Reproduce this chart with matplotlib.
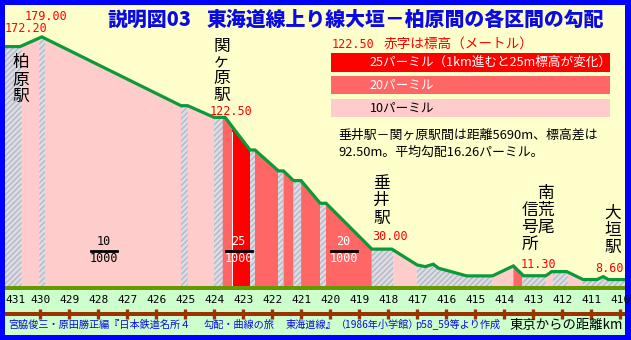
import numpy as np
import matplotlib
matplotlib.use('Agg')
import matplotlib.pyplot as plt
from matplotlib.patches import Rectangle
from matplotlib.lines import Line2D

plt.rcParams['font.family'] = ['Noto Sans CJK JP', 'DejaVu Sans']
plt.rcParams['hatch.linewidth'] = 0.9

# 勾配線 (東京からの距離km, 標高m)
profile_km = [431.21, 430.69, 429.94, 425.14, 424.91, 424.00, 423.62, 422.76, 422.59,
              421.78, 421.61, 421.26, 421.00, 420.34, 420.14, 418.56, 417.87, 417.00,
              416.72, 416.44, 416.26, 415.29, 414.40, 413.68, 413.33, 412.56, 412.36,
              411.84, 411.27, 410.80, 410.58, 410.40, 409.83]
profile_h = [172.2, 172.2, 179.0, 130.7, 130.7, 122.5, 122.5, 99.6, 99.6,
             84.9, 84.9, 78.1, 78.1, 62.2, 62.2, 30.0, 30.0, 18.9,
             17.7, 19.4, 16.6, 11.2, 11.2, 18.2, 11.3, 11.3, 14.2,
             14.2, 8.6, 8.6, 10.7, 8.6, 8.6]

# 区間の境界と勾配 (パーミル, 0はレベル)
seg_edges = [431.21, 430.63, 430.03, 429.83, 425.14, 424.91, 424.00, 423.70, 423.39,
             422.76, 422.59, 421.78, 421.61, 421.26, 421.00, 420.34, 420.14, 418.56,
             417.81, 417.01, 414.40, 413.68, 413.37, 412.55, 412.32, 411.80, 411.29, 409.83]
seg_grade = [0, 10, 0, 10, 0, 10, 0, 20, 25, 0, 20, 0, 20, 0, 20, 0, 20, 0,
             10, 0, 10, 20, 0, 10, 0, 10, 0]

km_ticks = list(range(430, 409, -1))
elev_labels = ['179.00', '172.20', '122.50', '30.00', '11.30', '8.60']

grade_colors = {0: '#dcdce6', 10: '#ffcccc', 20: '#ff6666', 25: '#ff0000'}

W, H = 631, 340
fig = plt.figure(figsize=(W / 100, H / 100), dpi=100, facecolor='#0000ff')


def px(x, y):
    return x / W, 1 - y / H


def bare(a):
    # 枠と目盛りだけ消す (axis('off') だと背景色も消える)
    a.set_xticks([])
    a.set_yticks([])
    for s in a.spines.values():
        s.set_visible(False)


# 本体
ax = fig.add_axes([5 / W, 1 - 286 / H, 620 / W, 281 / H], facecolor='#ffffcc')
ymin, ymax = 4.1, 201.4
ax.set_xlim(431.21, 409.83)
ax.set_ylim(ymin, ymax)
bare(ax)

xs = np.array(profile_km[::-1])
hs = np.array(profile_h[::-1])
for a, b, g in zip(seg_edges[:-1], seg_edges[1:], seg_grade):
    inner = [k for k in profile_km if b < k < a]
    x = np.array([a] + inner + [b])
    y = np.interp(x, xs, hs)
    if g == 0:
        ax.fill_between(x, y, ymin, facecolor=grade_colors[g], edgecolor='#b4b4be',
                        hatch='//////', linewidth=0)
    else:
        ax.fill_between(x, y, ymin, facecolor=grade_colors[g], linewidth=0)

k_split = seg_edges[8]
ax.plot([k_split, k_split], [ymin, np.interp(k_split, xs, hs) - 4], color='white', lw=0.7)
ax.plot(profile_km, profile_h, color='#0a9a3a', lw=2.3, solid_joinstyle='miter')

# 下の帯
ax2 = fig.add_axes([5 / W, 5 / H, 620 / W, 49 / H], facecolor='#ccffcc')
ax2.set_xlim(431.21, 409.83)
ax2.set_ylim(0, 49)
bare(ax2)
ax2.axhspan(45.5, 49, color='#669900', lw=0)
ax2.axhline(20.7, color='#993300', lw=2.9)
ax2.vlines(km_ticks, 15.7, 25.7, color='#993300', lw=2.4)
for k in km_ticks:
    ax2.text(k, 35, str(k), ha='center', va='center', fontsize=8,
             family='DejaVu Sans Mono')
ax2.text(431.21, 35, '431', ha='left', va='center', fontsize=8,
         family='DejaVu Sans Mono')

blue = '#0a0ae6'
credits = [(8, '宮脇俊三・原田勝正編『日本鉄道名所４'), (204, '勾配・曲線の旅'),
           (286, '東海道線』'), (336, '（1986年小学館）')]
for x, t in credits:
    fig.text(*px(x, 325), t, color=blue, fontsize=7.3, ha='left', va='center')
fig.text(*px(500, 325), 'p58_59等より作成', color=blue, fontsize=7.3,
         ha='right', va='center')
fig.text(*px(623, 325), '東京からの距離km', color='black', fontsize=9.6,
         ha='right', va='center')

# タイトル
fig.text(*px(107, 20), '説明図03', color=blue, fontsize=14.3, weight='heavy',
         ha='left', va='center')
fig.text(*px(604, 20), '東海道線上り線大垣－柏原間の各区間の勾配', color=blue,
         fontsize=14.3, weight='heavy', ha='right', va='center')

# 標高
mono = 'DejaVu Sans Mono'
for (x, y), t in zip([(46, 17), (26, 29), (231, 112), (390, 237), (538, 264), (609, 268)],
                     elev_labels):
    fig.text(*px(x, y), t, color='red', fontsize=8.5, family=mono,
             ha='center', va='center')

# 凡例
fig.text(*px(332, 44), '122.50', color='red', fontsize=8.5, family=mono,
         ha='left', va='center')
fig.text(*px(384, 44), '赤字は標高（メートル）', color='red', fontsize=9.8,
         ha='left', va='center')
legend = [(53.5, 71.5, 25, '25パーミル（1km進むと25m標高が変化）', 'white'),
          (76.5, 94, 20, '20パーミル', 'white'),
          (99.5, 116.5, 10, '10パーミル', 'black')]
for y0, y1, g, t, c in legend:
    fig.add_artist(Rectangle(px(331, y1), 279 / W, (y1 - y0) / H,
                             transform=fig.transFigure, color=grade_colors[g], lw=0))
    fig.text(*px(370, (y0 + y1) / 2), t, color=c, fontsize=9.1, ha='left', va='center')

fig.text(*px(338, 135), '垂井駅－関ヶ原駅間は距離5690m、標高差は', fontsize=9.3,
         ha='left', va='center')
fig.text(*px(338, 152), '92.50m。平均勾配16.26パーミル。', fontsize=9.3,
         ha='left', va='center')

# 駅名 (縦書き)
stations = [(20.5, [63, 80, 96.5], '柏原駅'),
            (221.5, [46.5, 62, 78.5, 95], '関ヶ原駅'),
            (381.5, [183.5, 200.5, 218], '垂井駅'),
            (546, [193, 210, 227.5], '南荒尾'),
            (529.5, [210.5, 227.5, 244], '信号所'),
            (612.5, [213, 230, 247.5], '大垣駅')]
for x, ys, name in stations:
    for y, ch in zip(ys, name):
        fig.text(*px(x, y), ch, fontsize=12, ha='center', va='center')

# 勾配の分数表示
fractions = [(104, '10', 'black'), (238.5, '25', 'white'), (343.5, '20', 'white')]
for x, num, c in fractions:
    fig.text(*px(x, 241.5), num, color=c, fontsize=8.5, family=mono,
             ha='center', va='center')
    fig.text(*px(x, 259), '1000', color=c, fontsize=8.5, family=mono,
             ha='center', va='center')
    fig.add_artist(Line2D([(x - 13) / W, (x + 13) / W], [1 - 250.8 / H] * 2,
                          transform=fig.transFigure, color='black', lw=2))

fig.savefig('out.png', dpi=100, facecolor=fig.get_facecolor())
